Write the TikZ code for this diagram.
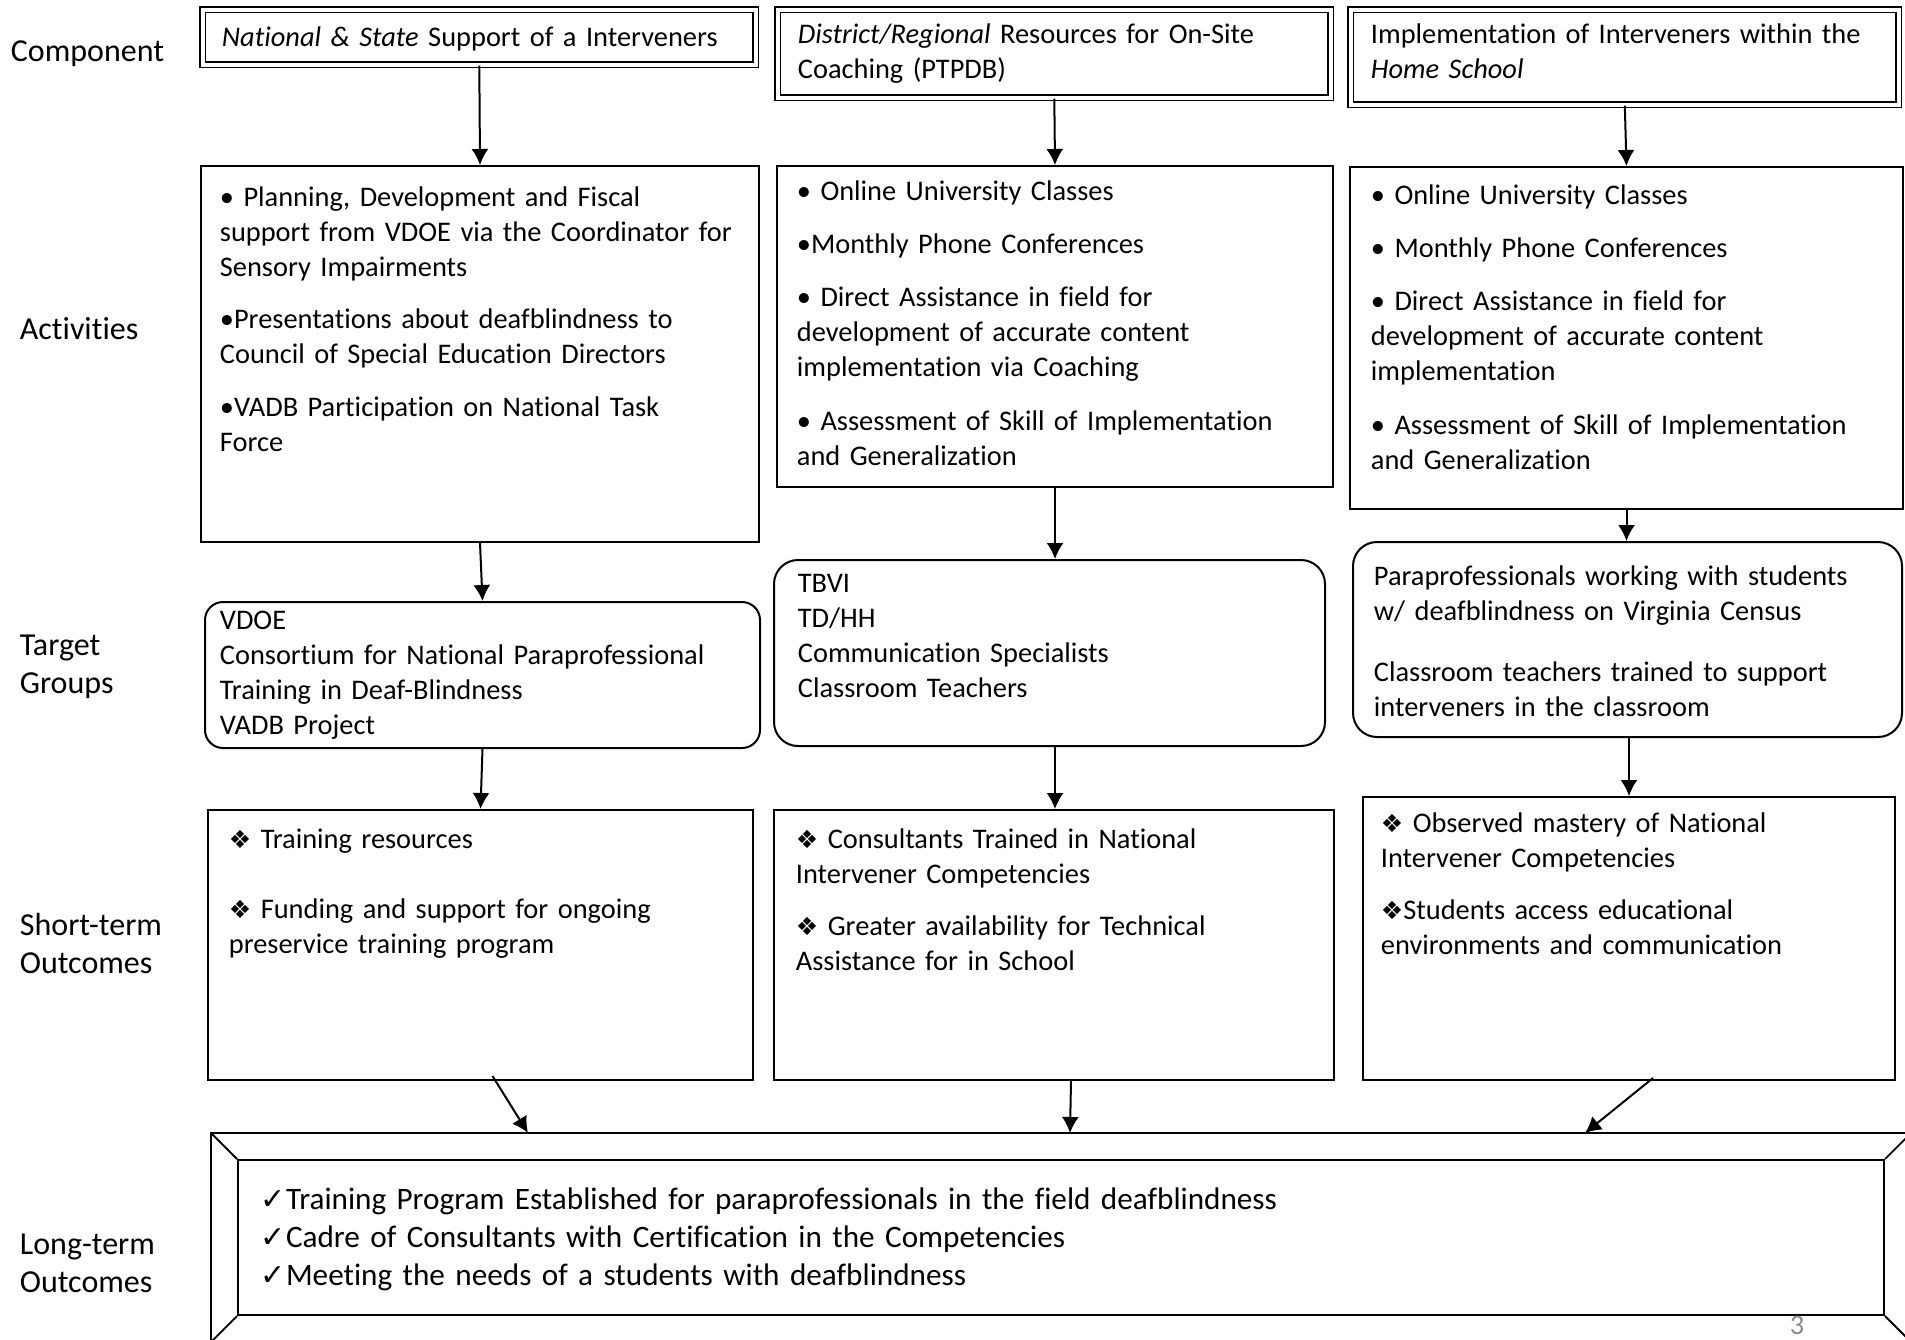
\documentclass[tikz,border=0pt]{standalone}
\usepackage{fontspec}
\setmainfont{Carlito}[Ligatures=NoCommon]
\newfontfamily\symfont{DejaVu Sans}
\usetikzlibrary{calc, arrows.meta}
\definecolor{mygray}{RGB}{140, 140, 140}
\newcommand{\dia}{{\symfont\fontsize{12.5}{12.5}\selectfont ❖}}
\newcommand{\tick}{{\symfont\fontsize{15}{15}\selectfont ✓}}
\newcommand{\boxfont}{\fontsize{14.2}{17.6}\selectfont}
\newcommand{\labfont}{\fontsize{16}{19}\selectfont}
\newcommand{\ltfont}{\fontsize{15.6}{19}\selectfont}
\tikzset{
  compbox/.style = {draw, double, double distance=2pt, line width=0.8pt, anchor = north west, inner sep=0},
  plainbox/.style = {draw, line width=1pt, anchor = north west, inner sep=0},
  roundbox/.style = {plainbox, rounded corners=12pt},
  txt/.style = {anchor = base west, align=left, inner sep=0, text width=290pt, font=\boxfont},
  rowlabel/.style = {anchor = base west, align=left, inner sep=0, text width=100pt, font=\labfont},
  link/.style = {-{Latex[length=8pt, width=8.5pt]}, line width=1pt},
}

\begin{document}
\begin{tikzpicture}[x=0.5pt, y=-0.5pt, line width=0.9pt]
\useasboundingbox (0, 0) rectangle (1905, 1339);
\clip (0, 0) rectangle (1905, 1339);

% row labels
\node[rowlabel] (lcomp) at (10, 61) {Component};
\node[rowlabel] (lact) at (19, 339) {Activities};
\node[rowlabel] (ltarget) at (19, 655) {Target\\Groups};
\node[rowlabel] (lshort) at (19, 935) {Short-term\\Outcomes};
\node[rowlabel] (llong) at (19, 1254) {Long-term\\Outcomes};

% components
\node[compbox, minimum width=276.5pt, minimum height=27.5pt] (c1) at (202, 9) {};
\node[compbox, minimum width=276.5pt, minimum height=44pt] (c2) at (777, 9) {};
\node[compbox, minimum width=274pt, minimum height=47.5pt] (c3) at (1350, 9) {};
\node[txt] (c1t) at (221, 46) {\textit{National \& State} Support of a Interveners};
\node[txt] (c2t) at (797, 43) {\textit{District/Regional} Resources for On-Site\\Coaching  (PTPDB)};
\node[txt] (c3t) at (1370, 43) {Implementation of Interveners within the\\\textit{Home School}};

% activities
\node[plainbox, minimum width=279pt, minimum height=188pt] (a1) at (200, 165) {};
\node[plainbox, minimum width=278pt, minimum height=160.5pt] (a2) at (776, 165) {};
\node[plainbox, minimum width=276.5pt, minimum height=171pt] (a3) at (1349, 166) {};
\node[txt] (a1t) at (219, 206) {• Planning, Development and Fiscal\\support from VDOE via the Coordinator for\\Sensory Impairments\\[8.5pt]
  •Presentations  about deafblindness to\\Council of Special Education Directors\\[8.5pt]
  •VADB Participation on National Task\\Force};
\node[txt] (a2t) at (796, 200) {• Online University Classes\\[9pt]
  •Monthly  Phone Conferences\\[9pt]
  • Direct Assistance in field for\\development of accurate content\\implementation via Coaching\\[9pt]
  • Assessment of Skill of Implementation\\and Generalization};
\node[txt] (a3t) at (1370, 204) {• Online University Classes\\[9pt]
  • Monthly  Phone Conferences\\[9pt]
  • Direct Assistance in field for\\development of accurate content\\implementation\\[9pt]
  • Assessment of Skill of Implementation\\and Generalization};

% target groups
\node[roundbox, rounded corners=9pt, minimum width=277.5pt, minimum height=73pt] (t1) at (204, 601) {};
\node[roundbox, minimum width=275.5pt, minimum height=93pt] (t2) at (773, 559) {};
\node[roundbox, minimum width=274.5pt, minimum height=97.5pt] (t3) at (1352, 541) {};
\node[txt] (t1t) at (219, 629) {VDOE\\Consortium for National Paraprofessional\\Training in Deaf-Blindness\\VADB Project};
\node[txt] (t2t) at (797, 592) {TBVI\\TD/HH\\Communication Specialists\\Classroom Teachers};
\node[txt] (t3t) at (1373, 585) {Paraprofessionals working with students\\w/ deafblindness  on Virginia Census\\[13pt]
  Classroom teachers trained to support\\interveners  in the classroom};

% short-term outcomes
\node[plainbox, minimum width=272.5pt, minimum height=135pt] (s1) at (207, 809) {};
\node[plainbox, minimum width=280pt, minimum height=135pt] (s2) at (773, 809) {};
\node[plainbox, minimum width=266pt, minimum height=141.5pt] (s3) at (1362, 796) {};
\node[txt] (s1t) at (228, 848) {\dia\ Training resources\\[17.4pt]
  \dia\ Funding and support for ongoing\\preservice training program};
\node[txt] (s2t) at (795, 848) {\dia\ Consultants Trained in National\\Intervener Competencies\\[8.5pt]
  \dia\ Greater availability for Technical\\Assistance for in School};
\node[txt] (s3t) at (1380, 832) {\dia\ Observed mastery of  National\\Intervener Competencies\\[8.5pt]
  \dia Students access educational\\environments and communication};

% long-term outcomes
\node[plainbox, minimum width=823pt, minimum height=77.5pt] (lt) at (237, 1159) {};
\coordinate (ltNW) at ($(lt.north west)+(-26, -26)$);
\coordinate (ltNE) at ($(lt.north east)+(26, -26)$);
\coordinate (ltSW) at ($(lt.south west)+(-26, 26)$);
\coordinate (ltSE) at ($(lt.south east)+(26, 26)$);
\draw (ltNW) rectangle (ltSE);
\draw (lt.north west) -- (ltNW);
\draw (lt.north east) -- (ltNE);
\draw (lt.south west) -- (ltSW);
\draw (lt.south east) -- (ltSE);
\node[txt, text width=600pt, font=\ltfont] (ltt) at (260, 1209) {\tick Training Program Established for paraprofessionals in the field deafblindness\\
  \tick Cadre of Consultants with Certification in the Competencies\\
  \tick Meeting the needs of a students with deafblindness};
\node[text=mygray, font=\boxfont] (pagenum) at (1797, 1325) {3};

% arrows
\coordinate (in1) at (528, 1133);
\coordinate (in2) at (1070, 1133);
\coordinate (in3) at (1585, 1133);
\draw[link] (c1.south) -- (a1.north);
\draw[link] (c2.south) -- (a2.north);
\draw[link] (c3.south) -- (a3.north);
\draw[link] (a1.south) -- (t1.north);
\draw[link] (a2.south) -- (a2.south |- t2.north);
\draw[link] (a3.south) -- (a3.south |- t3.north);
\draw[link] (t1.south) -- (s1.north);
\draw[link] (t2.south -| a2.south) -- (a2.south |- s2.north);
\draw[link] (t3.south -| s3.north) -- (s3.north);
\draw[link] ($(s1.south)+(12, -5)$) -- (in1);
\draw[link] ($(s2.south)+(17, 0)$) -- (in2);
\draw[link] ($(s3.south)+(24, -3)$) -- (in3);
\end{tikzpicture}
\end{document}
